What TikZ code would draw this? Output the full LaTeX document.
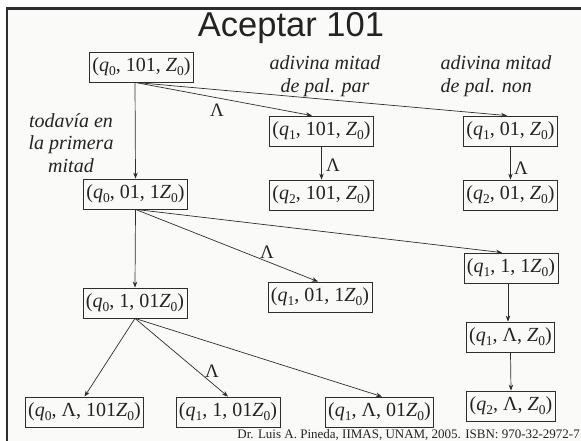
\documentclass[tikz,border=0pt]{standalone}
\usepackage{fontspec}
\setmainfont{Liberation Serif}
\newfontfamily\titlefont{Liberation Sans}
\usetikzlibrary{arrows.meta}
\definecolor{bg}{RGB}{250,250,248}
\definecolor{ln}{RGB}{45,45,45}
\definecolor{tx}{RGB}{35,35,35}
\newcommand\sbs[1]{\raisebox{-3.5pt}{\fontsize{13.5}{14}\selectfont #1}}
\newcommand\cfg[3]{(\textit{q}\sbs{#1}, #2, #3)}
\newcommand\Zz{\textit{Z}\sbs{0}}
\tikzset{
  cfgbox/.style={draw=ln, line width=0.8pt, text=tx, font=\fontsize{20}{22}\selectfont, inner xsep=3pt, inner ysep=0pt, minimum height=30pt},
  conn/.style={draw=ln, line width=0.7pt, -{Stealth[length=6pt,width=4.5pt]}},
  lam/.style={text=tx, font=\fontsize{19}{21}\selectfont, inner sep=0pt},
  note/.style={text=tx, font=\fontsize{20}{22.5}\selectfont\itshape, inner sep=0pt}
}
\begin{document}
\begin{tikzpicture}[x=1pt,y=-1pt]
\useasboundingbox (0,0) rectangle (581,441);
\fill[white] (0,0) rectangle (581,441);
\fill[bg] (7,8) rectangle (581,441);
\draw[ln, line width=2.6pt] (7,441) -- (7,8.3) -- (581,8.3);
\node[anchor=base, text=tx, font=\titlefont\fontsize{34.5}{36}\selectfont, inner sep=0pt] (title) at (291,37) {Aceptar 101};

\node[cfgbox] (n1) at (141.5,67) {\cfg{0}{101}{\Zz}};
\node[cfgbox] (n2) at (321.5,131) {\cfg{1}{101}{\Zz}};
\node[cfgbox] (n3) at (510.5,131) {\cfg{1}{01}{\Zz}};
\node[cfgbox] (n4) at (321.5,195) {\cfg{2}{101}{\Zz}};
\node[cfgbox] (n5) at (510.5,195) {\cfg{2}{01}{\Zz}};
\node[cfgbox] (n6) at (135.5,194) {\cfg{0}{01}{1\Zz}};
\node[cfgbox] (n7) at (135,303) {\cfg{0}{1}{01\Zz}};
\node[cfgbox] (n8) at (320,297) {\cfg{1}{01}{1\Zz}};
\node[cfgbox] (n9) at (511,268) {\cfg{1}{1}{1\Zz}};
\node[cfgbox] (n10) at (510.5,337) {\cfg{1}{Λ}{\Zz}};
\node[cfgbox] (n11) at (511,406) {\cfg{2}{Λ}{\Zz}};
\node[cfgbox] (n12) at (84.5,412) {\cfg{0}{Λ}{101\Zz}};
\node[cfgbox] (n13) at (228,412) {\cfg{1}{1}{01\Zz}};
\node[cfgbox] (n14) at (379.5,412) {\cfg{1}{Λ}{01\Zz}};

\node[note, align=center] (l1) at (71,143) {todavía en\\la primera\\mitad};
\node[note, align=center] (l2) at (325,76) {adivina mitad\\de pal. par};
\node[note, align=left] (l3) at (496,76) {adivina mitad\\de pal. non};

\draw[conn] ([xshift=-6.5pt]n1.south) -- (n6.north);
\draw[conn] ([xshift=-6.5pt]n1.south) -- ([xshift=-9.5pt]n2.north);
\draw[conn] ([xshift=-6.5pt]n1.south) -- ([xshift=-3.5pt]n3.north);
\draw[conn] (n2.south) -- (n4.north);
\draw[conn] (n3.south) -- (n5.north);
\draw[conn] (n6.south) -- (n7.north);
\draw[conn] (n6.south) -- ([xshift=-2pt]n8.north);
\draw[conn] (n6.south) -- ([xshift=-9pt]n9.north);
\draw[conn] ([xshift=-3pt]n9.south) -- ([xshift=-2.5pt]n10.north);
\draw[conn] (n10.south) -- (n11.north);
\draw[conn] (n7.south) -- (n12.north);
\draw[conn] (n7.south) -- (n13.north);
\draw[conn] (n7.south) -- ([xshift=2.5pt]n14.north);

\node[lam] (a1) at (217,110) {Λ};
\node[lam] (a2) at (333,165) {Λ};
\node[lam] (a3) at (521,168) {Λ};
\node[lam] (a4) at (267,252) {Λ};
\node[lam] (a5) at (212,371) {Λ};

\node[anchor=base east, text=tx, font=\fontsize{13}{14}\selectfont, inner sep=0pt] (foot) at (580,438) {Dr. Luis A. Pineda, IIMAS, UNAM, 2005. ISBN: 970-32-2972-7};
\end{tikzpicture}
\end{document}
